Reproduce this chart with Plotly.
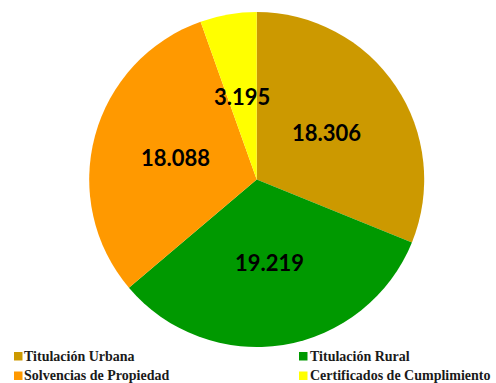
import math
import plotly.graph_objects as go

# Data
categories = ["Titulación Urbana", "Titulación Rural", "Solvencias de Propiedad", "Certificados de Cumplimiento"]
values = [18306, 19219, 18088, 3195]
colors = ["#CC9900", "#009900", "#FF9900", "#FFFF00"]

W, H = 496, 383

# Pie geometry in pixels
cx, cy, r = 256.7, 179.5, 167.5


def px_x(x):
    return x / W


def px_y(y):
    return 1 - y / H


fig = go.Figure(
    go.Pie(
        labels=categories,
        values=values,
        marker=dict(colors=colors, line=dict(width=0)),
        sort=False,
        direction="clockwise",
        rotation=0,
        textinfo="none",
        hoverinfo="label+value+percent",
        showlegend=False,
        domain=dict(x=[px_x(cx - r), px_x(cx + r)], y=[px_y(cy + r), px_y(cy - r)]),
    )
)

# Value labels placed at mid-radius of each slice
total = sum(values)
cum = 0
annotations = []
for v in values:
    mid = (cum + v / 2) / total * 2 * math.pi
    cum += v
    lx = cx + 0.5 * r * math.sin(mid)
    ly = cy - 0.5 * r * math.cos(mid)
    annotations.append(
        dict(
            x=px_x(lx), y=px_y(ly), xref="paper", yref="paper",
            text=f"{v:,}".replace(",", "."), showarrow=False,
            xanchor="center", yanchor="middle",
            font=dict(family="Lato", size=22, color="#000000", weight="bold"),
        )
    )

# Two-column legend drawn below the pie
shapes = []
col_sq = [14, 299]
col_txt = [22, 308]
row_sq = [352, 371.5]
row_txt = [356.5, 375.5]
for i, (name, col) in enumerate(zip(categories, colors)):
    c, rw = i % 2, i // 2
    shapes.append(
        dict(
            type="rect", xref="paper", yref="paper",
            x0=px_x(col_sq[c]), x1=px_x(col_sq[c] + 8.5),
            y0=px_y(row_sq[rw] + 8.5), y1=px_y(row_sq[rw]),
            fillcolor=col, line=dict(width=0),
        )
    )
    annotations.append(
        dict(
            x=px_x(col_txt[c]), y=px_y(row_txt[rw]), xref="paper", yref="paper",
            text=name, showarrow=False, xanchor="left", yanchor="middle",
            font=dict(family="Liberation Serif", size=14, color="#1a1a1a", weight="bold"),
        )
    )

fig.update_layout(
    width=W, height=H,
    margin=dict(l=0, r=0, t=0, b=0),
    paper_bgcolor="white",
    plot_bgcolor="white",
    annotations=annotations,
    shapes=shapes,
)

fig.write_html("out.html")
